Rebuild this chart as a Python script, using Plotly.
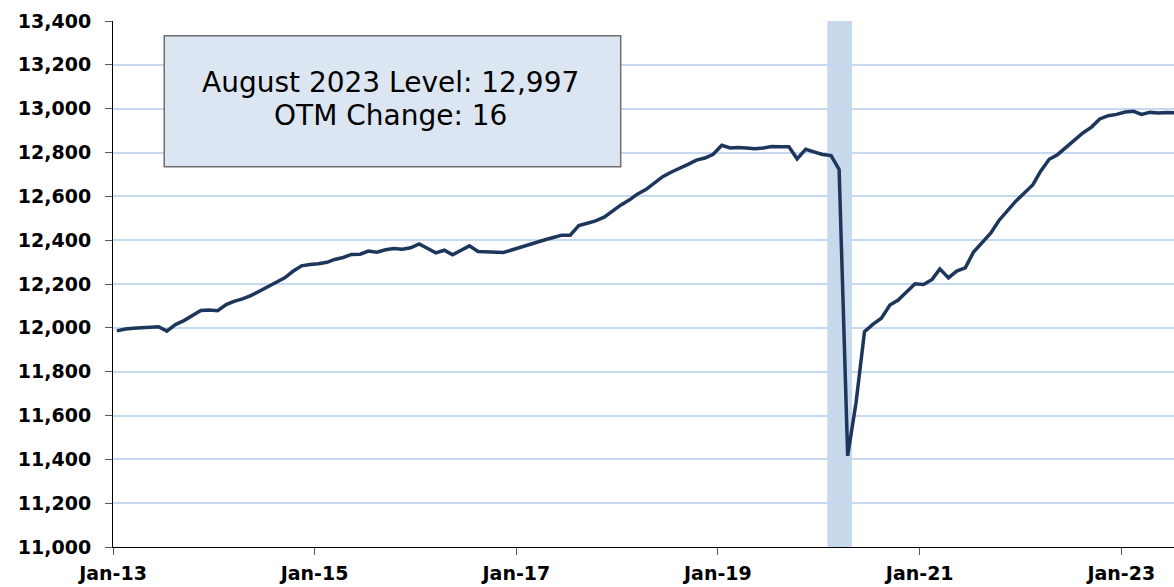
import pandas as pd
import plotly.graph_objects as go

# Monthly level, Jan 2013 .. Aug 2023 (thousands)
values = [
    11986, 11995, 11998, 12000, 12001, 12005, 11985, 12015, 12033, 12056, 12079, 12081,
    12078, 12106, 12121, 12132, 12147, 12167, 12188, 12206, 12228, 12258, 12283, 12289,
    12292, 12299, 12312, 12321, 12335, 12336, 12350, 12345, 12356, 12362, 12359, 12365,
    12383, 12362, 12342, 12354, 12333, 12354, 12374, 12348, 12347, 12345, 12344, 12355,
    12367, 12382, 12392, 12402, 12412, 12423, 12423, 12467, 12477, 12488, 12505, 12534,
    12561, 12584, 12610, 12631, 12658, 12690, 12710, 12727, 12746, 12765, 12775, 12792,
    12833, 12821, 12823, 12821, 12817, 12821, 12827, 12826, 12826, 12771, 12815, 12803,
    12791, 12786, 12723, 11416, 11656, 11983, 12016, 12044, 12104, 12127, 12162, 12201,
    12198, 12221, 12269, 12228, 12259, 12274, 12346, 12388, 12432, 12490, 12536, 12578,
    12615, 12653, 12715, 12769, 12790, 12822, 12858, 12889, 12916, 12953, 12968, 12974,
    12985, 12988, 12974, 12983, 12980, 12983, 12981, 12997,
]
start_month = "2013-01-01"
dates = pd.date_range(start_month, periods=len(values), freq="MS") + pd.Timedelta(days=14)

tick_dates = ["2013-01-01", "2015-01-01", "2017-01-01", "2019-01-01", "2021-01-01", "2023-01-01"]
tick_labels = ["Jan-13", "Jan-15", "Jan-17", "Jan-19", "Jan-21", "Jan-23"]
y_ticks = list(range(11000, 13401, 200))

recession_start = "2020-02-01"
recession_end = "2020-05-01"

box_line1 = "August 2023 Level: 12,997"
box_line2 = "OTM Change: 16"

fig = go.Figure()
fig.add_trace(go.Scatter(
    x=dates, y=values, mode="lines",
    line=dict(color="#1d365c", width=3.5),
    showlegend=False, hoverinfo="skip",
))

fig.add_shape(type="rect", xref="x", yref="paper",
              x0=recession_start, x1=recession_end, y0=0, y1=1,
              fillcolor="#c9d9ec", line=dict(width=0), layer="below")

fig.add_shape(type="rect", xref="paper", yref="paper",
              x0=0.0483, x1=0.4785, y0=0.7230, y1=0.9721,
              fillcolor="#dce6f2", line=dict(color="#6e6e6e", width=1.5), layer="above")

fig.add_annotation(xref="paper", yref="paper", x=0.262, y=0.884,
                   text=box_line1, showarrow=False, xanchor="center", yanchor="middle",
                   font=dict(family="DejaVu Sans", size=28, color="black"))
fig.add_annotation(xref="paper", yref="paper", x=0.262, y=0.8207,
                   text=box_line2, showarrow=False, xanchor="center", yanchor="middle",
                   font=dict(family="DejaVu Sans", size=28, color="black"))

fig.update_xaxes(
    type="date",
    range=["2013-01-01", "2023-07-11"],
    tickvals=tick_dates, ticktext=tick_labels,
    showgrid=False, zeroline=False,
    showline=True, linecolor="black", linewidth=1,
    ticks="outside", ticklen=7, tickcolor="#595959", tickwidth=1,
    tickfont=dict(family="DejaVu Sans", size=19, color="black", weight="bold"),
    ticklabelstandoff=2,
    automargin=False,
)
fig.update_yaxes(
    range=[11000, 13400],
    tickvals=y_ticks, tickformat=",d",
    showgrid=True, gridcolor="#c6d9f1", gridwidth=1.8,
    zeroline=False,
    showline=True, linecolor="black", linewidth=1,
    ticks="outside", ticklen=7, tickcolor="#595959", tickwidth=1,
    tickfont=dict(family="DejaVu Sans", size=19, color="black", weight="bold"),
    ticklabelstandoff=10,
    automargin=False,
)
fig.update_layout(
    width=1174, height=587,
    margin=dict(l=113, r=0, t=21, b=40),
    plot_bgcolor="white", paper_bgcolor="white",
    showlegend=False,
)
fig.write_html(
    "out.html",
    config={"displayModeBar": False},
    post_script="document.body.style.margin='0';document.body.style.overflow='hidden';",
)
